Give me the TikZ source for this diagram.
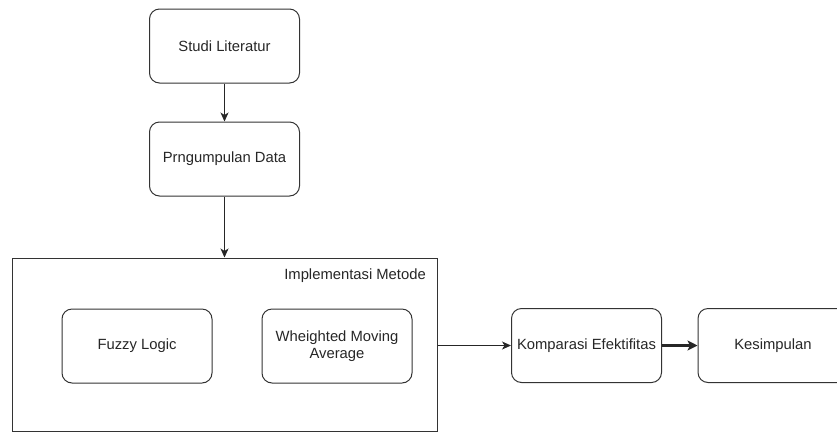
\documentclass[tikz,border=0pt]{standalone}
\usepackage{fontspec}
\setmainfont{Liberation Sans}
\usetikzlibrary{arrows,arrows.meta,shapes,positioning}
\tikzstyle{process} = [rectangle, rounded corners=10pt, minimum width=150pt, minimum height=74pt, inner sep=0pt, text centered, align=center, draw=black!80, line width=1pt, font=\fontsize{14.8}{17}\selectfont, text=black!85]
\tikzstyle{group} = [rectangle, minimum width=425pt, minimum height=173pt, inner sep=0pt, draw=black!80, line width=1pt]
\tikzstyle{arrow} = [line width=1pt, -{Stealth[length=9pt, width=8pt, inset=2.5pt]}, draw=black!85]
\tikzstyle{boldarrow} = [line width=2.2pt, -{Stealth[length=10pt, width=10pt, inset=2.5pt]}, draw=black!85]

\begin{document}
\begin{tikzpicture}[x=1pt, y=-1pt]
                    \useasboundingbox (0, 0) rectangle (837, 432);
                    \clip (0, 0) rectangle (837, 432);
                    \node [process] (studi) at (224.5, 46) {Studi Literatur};
                    \node [process] (data) at (224.5, 159) {Prngumpulan Data};
                    \node [group] (impl) at (224.5, 344.5) {};
                    \node [anchor=east, inner sep=0pt, font=\fontsize{14.8}{17}\selectfont, text=black!85] (impllabel) at (426, 276) {Implementasi Metode};
                    \node [process] (fuzzy) at (137, 346) {Fuzzy Logic};
                    \node [process] (wma) at (337, 346) {Wheighted Moving\\Average};
                    \node [process] (komp) at (586.5, 345.5) {Komparasi Efektifitas};
                    \node [process] (simpul) at (773, 345.5) {Kesimpulan};
                    \draw [arrow] (studi) -- (data);
                    \draw [arrow] (data) -- (impl);
                    \draw [arrow] (impl.east |- komp) -- (komp);
                    \draw [boldarrow] (komp) -- (simpul);
                \end{tikzpicture}
\end{document}
